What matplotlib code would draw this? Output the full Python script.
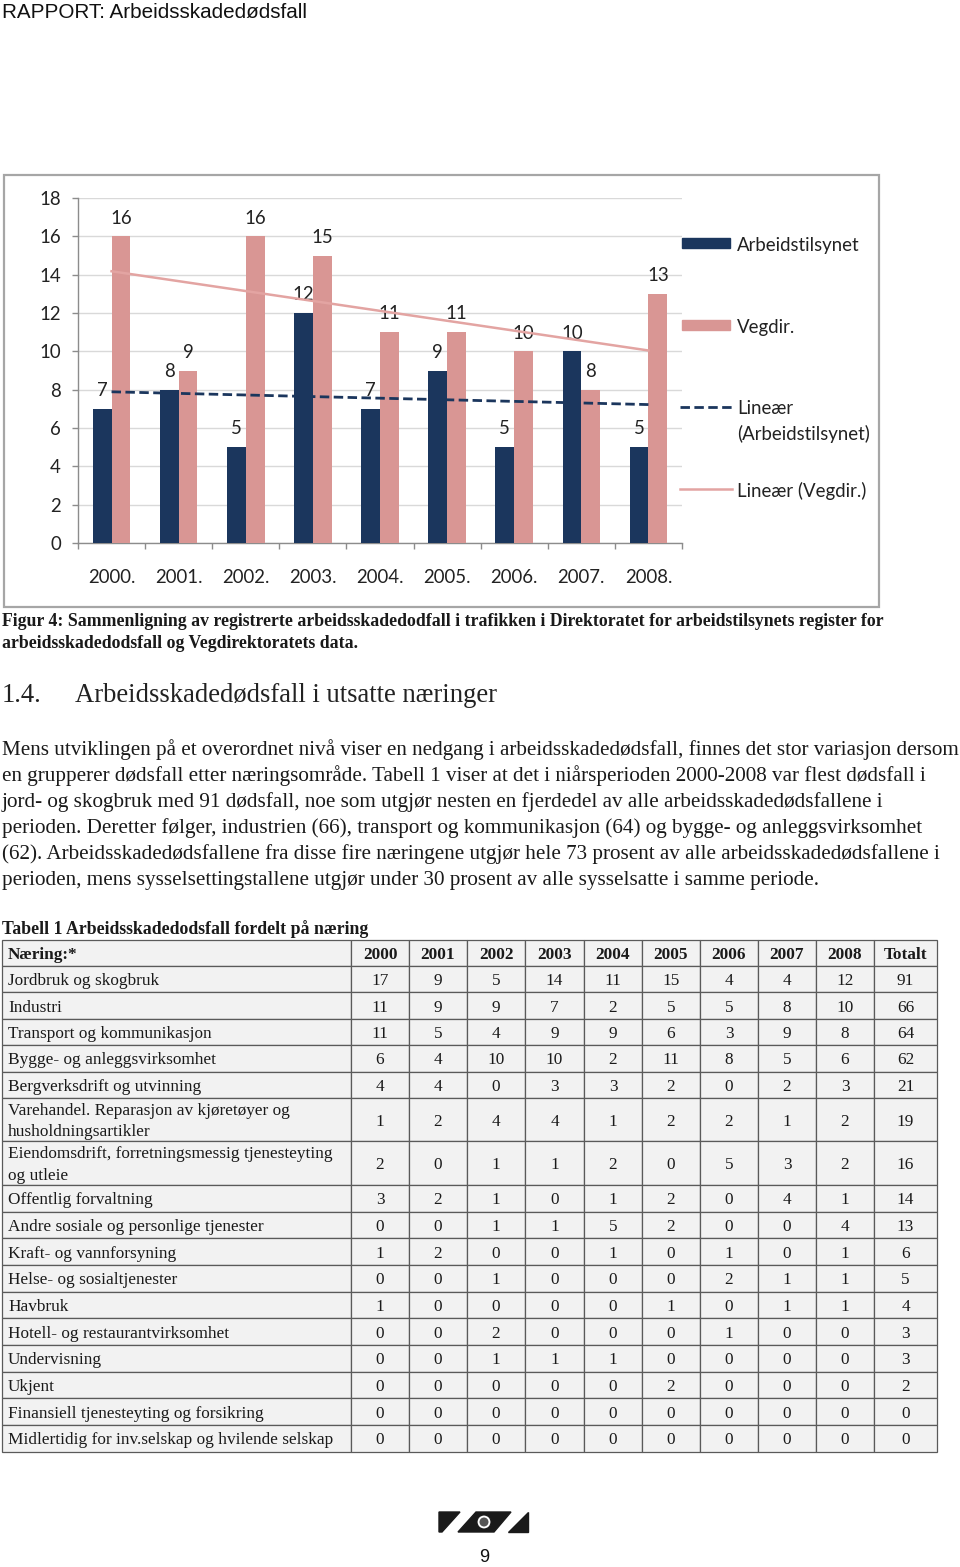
import matplotlib
matplotlib.use('Agg')
import matplotlib.pyplot as plt
import numpy as np
from matplotlib import font_manager as fm
from matplotlib.patches import Rectangle, Polygon, Circle
from matplotlib.lines import Line2D

# ---------------- data ----------------
years = ['2000.', '2001.', '2002.', '2003.', '2004.', '2005.', '2006.', '2007.', '2008.']
arbeidstilsynet = [7, 8, 5, 12, 7, 9, 5, 10, 5]
vegdir = [16, 9, 16, 15, 11, 11, 10, 8, 13]
y_ticks = [0, 2, 4, 6, 8, 10, 12, 14, 16, 18]
legend_labels = ['Arbeidstilsynet', 'Vegdir.', 'Lineær\n(Arbeidstilsynet)', 'Lineær (Vegdir.)']

table_header = ['Næring:*', '2000', '2001', '2002', '2003', '2004', '2005', '2006', '2007', '2008', 'Totalt']
table_labels = [
    'Jordbruk og skogbruk',
    'Industri',
    'Transport og kommunikasjon',
    'Bygge- og anleggsvirksomhet',
    'Bergverksdrift og utvinning',
    'Varehandel. Reparasjon av kjøretøyer og\nhusholdningsartikler',
    'Eiendomsdrift, forretningsmessig tjenesteyting\nog utleie',
    'Offentlig forvaltning',
    'Andre sosiale og personlige tjenester',
    'Kraft- og vannforsyning',
    'Helse- og sosialtjenester',
    'Havbruk',
    'Hotell- og restaurantvirksomhet',
    'Undervisning',
    'Ukjent',
    'Finansiell tjenesteyting og forsikring',
    'Midlertidig for inv.selskap og hvilende selskap',
]
table_values = [
    [17, 9, 5, 14, 11, 15, 4, 4, 12, 91],
    [11, 9, 9, 7, 2, 5, 5, 8, 10, 66],
    [11, 5, 4, 9, 9, 6, 3, 9, 8, 64],
    [6, 4, 10, 10, 2, 11, 8, 5, 6, 62],
    [4, 4, 0, 3, 3, 2, 0, 2, 3, 21],
    [1, 2, 4, 4, 1, 2, 2, 1, 2, 19],
    [2, 0, 1, 1, 2, 0, 5, 3, 2, 16],
    [3, 2, 1, 0, 1, 2, 0, 4, 1, 14],
    [0, 0, 1, 1, 5, 2, 0, 0, 4, 13],
    [1, 2, 0, 0, 1, 0, 1, 0, 1, 6],
    [0, 0, 1, 0, 0, 0, 2, 1, 1, 5],
    [1, 0, 0, 0, 0, 1, 0, 1, 1, 4],
    [0, 0, 2, 0, 0, 0, 1, 0, 0, 3],
    [0, 0, 1, 1, 1, 0, 0, 0, 0, 3],
    [0, 0, 0, 0, 0, 2, 0, 0, 0, 2],
    [0, 0, 0, 0, 0, 0, 0, 0, 0, 0],
    [0, 0, 0, 0, 0, 0, 0, 0, 0, 0],
]

page_title = 'RAPPORT: Arbeidsskadedødsfall'
caption_lines = [
    'Figur 4: Sammenligning av registrerte arbeidsskadedodfall i trafikken i Direktoratet for arbeidstilsynets register for',
    'arbeidsskadedodsfall og Vegdirektoratets data.',
]
heading_num = '1.4.'
heading_text = 'Arbeidsskadedødsfall i utsatte næringer'
body_lines = [
    'Mens utviklingen på et overordnet nivå viser en nedgang i arbeidsskadedødsfall, finnes det stor variasjon dersom',
    'en grupperer dødsfall etter næringsområde. Tabell 1 viser at det i niårsperioden 2000-2008 var flest dødsfall i',
    'jord- og skogbruk med 91 dødsfall, noe som utgjør nesten en fjerdedel av alle arbeidsskadedødsfallene i',
    'perioden. Deretter følger, industrien (66), transport og kommunikasjon (64) og bygge- og anleggsvirksomhet',
    '(62). Arbeidsskadedødsfallene fra disse fire næringene utgjør hele 73 prosent av alle arbeidsskadedødsfallene i',
    'perioden, mens sysselsettingstallene utgjør under 30 prosent av alle sysselsatte i samme periode.',
]
table_title = 'Tabell 1 Arbeidsskadedodsfall fordelt på næring'
page_number = '9'

# ---------------- style ----------------
W, H = 960, 1567
NAVY = '#1B365D'
PINK = '#D99694'
PINK_TREND = '#E3A4A2'
GRID = '#D9D9D9'
AXIS = '#8C8C8C'
TEXT = '#1A1A1A'
DY = 2  # visual-centre correction for va='center'


def has_font(name):
    try:
        fm.findfont(fm.FontProperties(family=name), fallback_to_default=False)
        return True
    except Exception:
        return False


SANS = 'Lato' if has_font('Lato') else 'DejaVu Sans'
SERIF = 'Liberation Serif' if has_font('Liberation Serif') else 'DejaVu Serif'
HEAD_SANS = 'Liberation Sans Narrow' if has_font('Liberation Sans Narrow') else 'Liberation Sans'

fig = plt.figure(figsize=(W / 100, H / 100), dpi=100)
page = fig.add_axes([0, 0, 1, 1])
page.set_xlim(0, W)
page.set_ylim(H, 0)
page.axis('off')
renderer = fig.canvas.get_renderer()


def fit(s, target, family, weight='normal', base=12.0):
    t = page.text(0, 0, s, fontsize=base, family=family, weight=weight)
    w = t.get_window_extent(renderer).width
    t.remove()
    return base * target / w


# ---------------- page header ----------------
fs_head = fit(page_title, 305, HEAD_SANS)
page.text(2, 10 + DY, page_title, family=HEAD_SANS, fontsize=fs_head, ha='left', va='center', color='#111111')

# ---------------- chart frame ----------------
page.add_patch(Rectangle((4, 175), 875, 432, fill=False, ec='#A6A6A6', lw=1.6))

# ---------------- chart ----------------
fs_chart = fit('(Arbeidstilsynet)', 132, SANS)
ax = fig.add_axes([78 / W, 1 - 543 / H, (682 - 78) / W, (543 - 198) / H])
ax.set_facecolor('none')
x = np.arange(len(years))
bw = 0.28
ax.bar(x - bw / 2, arbeidstilsynet, bw, color=NAVY, zorder=3)
ax.bar(x + bw / 2, vegdir, bw, color=PINK, zorder=3)

for xi, v in zip(x - bw / 2, arbeidstilsynet):
    ax.annotate(str(v), (xi, v), xytext=(0, 13.2), textcoords='offset points',
                ha='center', va='center', fontsize=fs_chart, family=SANS, color='#222222', zorder=2)
for xi, v in zip(x + bw / 2, vegdir):
    ax.annotate(str(v), (xi, v), xytext=(0, 13.2), textcoords='offset points',
                ha='center', va='center', fontsize=fs_chart, family=SANS, color='#222222', zorder=2)

c1 = np.polyfit(x, arbeidstilsynet, 1)
c2 = np.polyfit(x, vegdir, 1)
ax.plot(x, np.polyval(c1, x), color=NAVY, lw=2.0, linestyle=(0, (3.4, 1.6)), zorder=5)
ax.plot(x, np.polyval(c2, x), color=PINK_TREND, lw=1.8, zorder=5)

ax.set_xlim(-0.5, len(years) - 0.5)
ax.set_ylim(0, 18)
ax.set_yticks(y_ticks)
ax.set_yticklabels([str(t) for t in y_ticks])
ax.set_xticks(x)
ax.set_xticklabels(years)
ax.set_xticks(np.arange(-0.5, len(years), 1.0), minor=True)
ax.yaxis.grid(True, color=GRID, lw=1.0, zorder=0)
ax.set_axisbelow(True)
for s in ['top', 'right']:
    ax.spines[s].set_visible(False)
for s in ['left', 'bottom']:
    ax.spines[s].set_color(AXIS)
    ax.spines[s].set_linewidth(1.0)
ax.tick_params(axis='x', which='major', length=0, pad=18.5, labelsize=fs_chart, labelcolor='#222222')
ax.tick_params(axis='x', which='minor', length=4, width=1.0, color=AXIS)
ax.tick_params(axis='y', length=4.3, width=1.0, color=AXIS, pad=8, labelsize=fs_chart, labelcolor='#222222')
for lab in ax.get_xticklabels() + ax.get_yticklabels():
    lab.set_family(SANS)

# ---------------- legend ----------------
page.add_patch(Rectangle((682, 238), 48, 10, color=NAVY))
page.add_patch(Rectangle((682, 320), 48, 10, color=PINK))
page.add_line(Line2D([680, 732], [407, 407], color=NAVY, lw=2.0, linestyle=(0, (3.4, 1.6))))
page.add_line(Line2D([680, 732], [489, 489], color=PINK_TREND, lw=1.8))
leg_kw = dict(family=SANS, fontsize=fs_chart, color='#222222', ha='left', va='center')
page.text(737, 243 + DY, legend_labels[0], **leg_kw)
page.text(737, 325 + DY, legend_labels[1], **leg_kw)
l3a, l3b = legend_labels[2].split('\n')
page.text(737, 407 + DY, l3a, **leg_kw)
page.text(737, 432 + DY, l3b, **leg_kw)
page.text(737, 489 + DY, legend_labels[3], **leg_kw)

# ---------------- caption & heading ----------------
fs_cap = fit(caption_lines[0], 870, SERIF, 'bold')
page.text(2, 620 + DY, caption_lines[0], family=SERIF, weight='bold', fontsize=fs_cap, ha='left', va='center', color=TEXT)
page.text(2, 641 + DY, caption_lines[1], family=SERIF, weight='bold', fontsize=fs_cap, ha='left', va='center', color=TEXT)

fs_h = fit(heading_text, 422, SERIF)
page.text(2, 694 + DY, heading_num, family=SERIF, fontsize=fs_h, ha='left', va='center', color='#222222')
page.text(75, 694 + DY, heading_text, family=SERIF, fontsize=fs_h, ha='left', va='center', color='#222222')

fs_body = fit(body_lines[0], 956, SERIF)
for i, line in enumerate(body_lines):
    page.text(2, 748 + 26 * i + DY, line, family=SERIF, fontsize=fs_body, ha='left', va='center', color=TEXT)

# ---------------- table ----------------
fs_tt = fit(table_title, 363, SERIF, 'bold')
page.text(2, 927 + DY, table_title, family=SERIF, weight='bold', fontsize=fs_tt, ha='left', va='center', color=TEXT)

col_edges = [2, 351, 409, 467, 525, 584, 642, 700, 758, 816, 874, 937]
row_edges = [940, 966, 992, 1019, 1045, 1072, 1098, 1141, 1185, 1212, 1238, 1265,
             1292, 1318, 1345, 1372, 1398, 1425, 1452]
fs_tab = fit(table_labels[0], 152, SERIF)

for r in range(len(row_edges) - 1):
    for c in range(len(col_edges) - 1):
        page.add_patch(Rectangle((col_edges[c], row_edges[r]), col_edges[c + 1] - col_edges[c],
                                 row_edges[r + 1] - row_edges[r], fc='#F2F2F2', ec='#5A5A5A', lw=0.9))

rows = [table_header] + [[lab] + [str(v) for v in vals] for lab, vals in zip(table_labels, table_values)]
for r, row in enumerate(rows):
    yc = (row_edges[r] + row_edges[r + 1]) / 2 + DY
    wt = 'bold' if r == 0 else 'normal'
    for c, val in enumerate(row):
        if c == 0:
            page.text(col_edges[0] + 6, yc, val, family=SERIF, weight=wt, fontsize=fs_tab,
                      ha='left', va='center', color=TEXT, linespacing=1.45)
        else:
            page.text((col_edges[c] + col_edges[c + 1]) / 2, yc, val, family=SERIF, weight=wt,
                      fontsize=fs_tab, ha='center', va='center', color=TEXT)

# ---------------- footer logo ----------------
page.add_patch(Polygon([(439, 1512), (460, 1512), (442, 1532), (439, 1532)], closed=True, color='#1A1A1A'))
page.add_patch(Polygon([(476, 1512), (511, 1512), (494, 1532), (458, 1532)], closed=True, color='#1A1A1A'))
page.add_patch(Polygon([(528, 1512), (528, 1532), (508, 1532)], closed=True, color='#1A1A1A'))
page.add_patch(Circle((484, 1522), 7, fc='white', ec='#1A1A1A', lw=0.8))
page.add_patch(Circle((484, 1522), 4.5, fc='#555555', ec='none'))
page.text(484, 1556 + DY, page_number, family=HEAD_SANS, fontsize=13, ha='center', va='center', color='#111111')

fig.savefig('out.png', dpi=100)
